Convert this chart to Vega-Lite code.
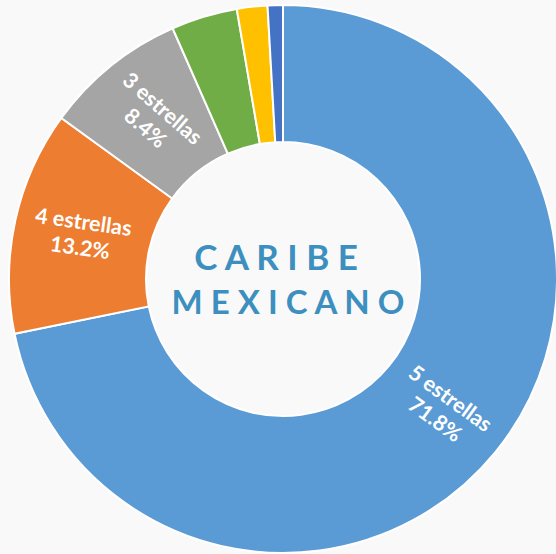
{
"$schema":"https://vega.github.io/schema/vega-lite/v6.json",
"width":566,"height":558,"autosize":"none","padding":0,
"background":"#f9f9f9",
"config":{"view":{"stroke":null}},
"datasets":{
"shares":[
{"rank":1,"categoria":"5 estrellas","share":71.8,"label":"5 estrellas\n71.8%"},
{"rank":2,"categoria":"4 estrellas","share":13.2,"label":"4 estrellas\n13.2%"},
{"rank":3,"categoria":"3 estrellas","share":8.4,"label":"3 estrellas\n8.4%"},
{"rank":4,"categoria":"2 estrellas","share":3.9,"label":""},
{"rank":5,"categoria":"1 estrella","share":1.8,"label":""},
{"rank":6,"categoria":"Otros","share":0.9,"label":""}
]},
"layer":[
{"data":{"name":"shares"},
"mark":{"type":"arc","radius":274,"radius2":137,"stroke":"#ffffff","strokeWidth":2},
"encoding":{
"theta":{"field":"share","type":"quantitative","stack":true,"scale":{"domain":[0,100]}},
"order":{"field":"rank","type":"ordinal"},
"color":{"field":"categoria","type":"nominal","legend":null,"sort":null,
"scale":{"domain":["5 estrellas","4 estrellas","3 estrellas","2 estrellas","1 estrella","Otros"],"range":["#5B9BD5","#ED7D31","#A5A5A5","#70AD47","#FFC000","#4472C4"]}}
}},
{"data":{"name":"shares"},
"mark":{"type":"text","radius":206,"dy":-12,"font":"Lato","fontWeight":"bold","fontSize":21.5,"fill":"#ffffff","align":"center","baseline":"middle","lineBreak":"\n","lineHeight":26},
"encoding":{
"theta":{"field":"share","type":"quantitative","stack":true,"scale":{"domain":[0,100]}},
"order":{"field":"rank","type":"ordinal"},
"text":{"field":"label","type":"nominal"},
"angle":{"field":"categoria","type":"nominal","legend":null,
"scale":{"type":"ordinal","domain":["5 estrellas","4 estrellas","3 estrellas","2 estrellas","1 estrella","Otros"],"range":[36,8,41,0,0,0]}}
}},
{"data":{"values":[{"linea":"C A R I B E"}]},
"mark":{"type":"text","font":"Lato","fontWeight":"bold","fontSize":35,"dx":-7,"dy":-20,"align":"center","baseline":"middle","fill":"#3C8FBE"},
"encoding":{"text":{"field":"linea","type":"nominal"}}},
{"data":{"values":[{"linea":"M E X I C A N O"}]},
"mark":{"type":"text","font":"Lato","fontWeight":"bold","fontSize":33,"dx":5,"dy":25,"align":"center","baseline":"middle","fill":"#3C8FBE"},
"encoding":{"text":{"field":"linea","type":"nominal"}}}
]}
